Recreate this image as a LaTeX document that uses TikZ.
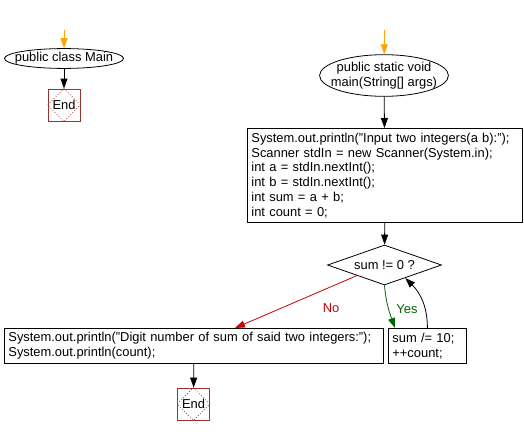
\documentclass[tikz,border=0pt]{standalone}
\usepackage{fontspec}
\setmainfont{Liberation Sans}
\usetikzlibrary{arrows.meta,shapes.geometric}

\definecolor{startcol}{RGB}{255,165,0}
\definecolor{endcol}{RGB}{153,51,51}
\definecolor{nocol}{RGB}{204,0,0}
\definecolor{yescol}{RGB}{0,100,0}

\tikzset{
    arr/.style={line width=0.8pt, -{Triangle[length=10pt, width=7pt]}},
    ell/.style={ellipse, draw, line width=0.8pt, align=center},
    box/.style={rectangle, draw, line width=0.8pt, align=left, inner xsep=4pt, inner ysep=0pt, anchor=north west},
    endbox/.style={rectangle, draw=endcol, line width=0.8pt, minimum size=32pt, inner sep=0pt},
    test/.style={diamond, draw, line width=0.8pt, aspect=2.85, inner sep=0pt, minimum width=114pt, minimum height=40pt}
}

\begin{document}
\begin{tikzpicture}[x=1pt, y=-1pt, font=\fontsize{12.9}{14.8}\selectfont]
    \useasboundingbox (0,0) rectangle (524,436);

    \node [ell, inner xsep=-7pt, inner ysep=1pt] (mainclass) at (64,58.5) {public class Main};
    \node [endbox] (endA) at (64,105) {End};

    \node [ell, inner xsep=-7.5pt, inner ysep=1.3pt] (mainfn) at (384,75.5) {public static void\\main(String[] args)};
    \node [box, text width=267pt, minimum height=94pt] (code) at (247,128) {System.out.println("Input two integers(a b):");\\Scanner stdIn = new Scanner(System.in);\\int a = stdIn.nextInt();\\int b = stdIn.nextInt();\\int sum = a + b;\\int count = 0;};
    \node [test] (loop) at (384.5,265) {sum != 0 ?};
    \node [box, text width=371pt, minimum height=35pt] (result) at (4,328) {System.out.println("Digit number of sum of said two integers:");\\System.out.println(count);};
    \node [box, text width=70pt, minimum height=35pt] (step) at (388,328) {sum /= 10;\\++count;};
    \node [endbox] (endB) at (193.5,404) {End};

    \node [text=nocol] (no) at (331,308) {No};
    \node [text=yescol] (yes) at (407,309) {Yes};

    \foreach \e in {endA,endB}
        \draw [endcol, line width=0.8pt, dotted] (\e.north) -- (\e.east) -- (\e.south) -- (\e.west) -- cycle;

    \coordinate (inA) at (64,30);
    \coordinate (inB) at (384.5,30);
    \coordinate (noend) at (235,328);
    \coordinate (yesend) at (395,328);

    \draw [arr, startcol] (inA) -- (mainclass);
    \draw [arr] (mainclass) -- (endA);
    \draw [arr, startcol] (inB) -- (mainfn);
    \draw [arr] (mainfn) -- (code);
    \draw [arr] (code) -- (loop);
    \draw [arr, nocol] (loop.201) -- (noend);
    \draw [arr, yescol] (loop.south) to [out=-85, in=110] (yesend);
    \draw [arr] (step.north) to [out=90, in=-45] (loop.-32);
    \draw [arr] (result) -- (endB);
\end{tikzpicture}
\end{document}
